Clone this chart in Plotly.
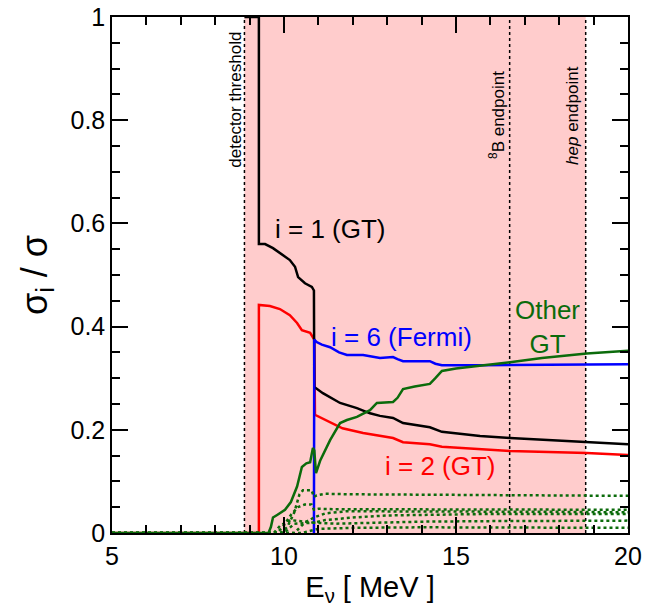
import plotly.graph_objects as go

# ---- data ----
threshold_E = 8.85
b8_endpoint_E = 16.56
hep_endpoint_E = 18.77

i1_x = [8.85, 9.27, 9.27, 9.45, 9.68, 9.97, 10.17, 10.32, 10.41, 10.61, 10.81, 10.87, 10.88, 11.13, 11.63, 12.12, 12.5, 12.79, 13.17, 13.46, 14.24, 14.59, 15.7, 16.57, 18.8, 20]
i1_y = [1, 1, 0.56, 0.56, 0.552, 0.539, 0.529, 0.516, 0.496, 0.484, 0.477, 0.47, 0.283, 0.271, 0.252, 0.242, 0.232, 0.227, 0.223, 0.213, 0.205, 0.196, 0.188, 0.184, 0.176, 0.172]

i2_x = [5, 9.27, 9.27, 9.59, 9.88, 10.17, 10.38, 10.52, 10.76, 10.84, 10.88, 10.9, 11.34, 11.7, 12.3, 12.79, 13.17, 13.46, 14.24, 14.59, 15.7, 16.57, 18.8, 20]
i2_y = [0, 0, 0.442, 0.44, 0.434, 0.422, 0.407, 0.393, 0.388, 0.38, 0.375, 0.229, 0.215, 0.203, 0.194, 0.188, 0.184, 0.176, 0.172, 0.167, 0.163, 0.159, 0.155, 0.151]

i6_x = [10.87, 10.88, 10.95, 11.1, 11.34, 11.6, 11.83, 12.3, 12.79, 13.17, 13.3, 13.46, 14.0, 14.24, 14.4, 14.59, 15.7, 18, 20]
i6_y = [0, 0.375, 0.37, 0.365, 0.36, 0.35, 0.345, 0.345, 0.339, 0.341, 0.337, 0.333, 0.333, 0.333, 0.328, 0.325, 0.325, 0.326, 0.327]

other_x = [5, 9.55, 9.62, 9.68, 9.8, 10.03, 10.2, 10.38, 10.52, 10.65, 10.76, 10.84, 10.88, 10.93, 11.05, 11.34, 11.63, 11.83, 12.12, 12.5, 12.7, 13.17, 13.3, 13.46, 13.8, 14.24, 14.4, 14.59, 15.0, 15.7, 16.57, 17.5, 18.8, 20]
other_y = [0, 0, 0.012, 0.03, 0.035, 0.045, 0.06, 0.09, 0.128, 0.135, 0.137, 0.165, 0.16, 0.116, 0.14, 0.18, 0.213, 0.219, 0.225, 0.238, 0.252, 0.254, 0.262, 0.279, 0.284, 0.289, 0.3, 0.314, 0.319, 0.324, 0.331, 0.339, 0.348, 0.353]

d1_x = [5, 9.9, 10.1, 10.3, 10.45, 10.55, 10.8, 10.87, 10.95, 11.2, 12, 14, 16, 18, 20]
d1_y = [0, 0, 0.012, 0.04, 0.075, 0.083, 0.083, 0.07, 0.073, 0.076, 0.075, 0.074, 0.073, 0.072, 0.072]
d2_x = [5, 9.8, 10.0, 10.2, 10.4, 10.6, 10.8, 10.87, 11.0, 11.5, 12.5, 14, 16, 18, 20]
d2_y = [0, 0, 0.015, 0.035, 0.05, 0.055, 0.055, 0.045, 0.047, 0.046, 0.046, 0.046, 0.045, 0.045, 0.045]
d3_x = [5, 10.3, 10.6, 10.87, 11.2, 11.8, 12.5, 14, 16, 18, 20]
d3_y = [0, 0, 0.02, 0.03, 0.038, 0.042, 0.042, 0.042, 0.041, 0.041, 0.04]
d4_x = [5, 9.7, 9.9, 10.2, 10.6, 10.87, 11.2, 12, 13, 14.5, 16, 18, 20]
d4_y = [0, 0, 0.015, 0.025, 0.022, 0.02, 0.025, 0.03, 0.034, 0.036, 0.037, 0.037, 0.037]
d5_x = [5, 10.0, 10.3, 10.87, 11.5, 12.5, 14, 16, 18, 20]
d5_y = [0, 0, 0.018, 0.02, 0.018, 0.02, 0.022, 0.023, 0.024, 0.024]
d6_x = [5, 10.5, 11.0, 12, 14, 16, 18, 20]
d6_y = [0, 0, 0.008, 0.01, 0.011, 0.011, 0.011, 0.01]

y_tickvals = [0, 0.2, 0.4, 0.6, 0.8, 1]
y_ticktext = ["0", "0.2", "0.4", "0.6", "0.8", "1"]
x_tickvals = [5, 10, 15, 20]
x_ticktext = ["5", "10", "15", "20"]

GREEN = "#0b6b0b"
FONT = "Liberation Sans, Arial, sans-serif"

fig = go.Figure()

# shaded region and markers
fig.add_shape(type="rect", x0=threshold_E, x1=hep_endpoint_E, y0=0, y1=1,
              xref="x", yref="y", fillcolor="#ffcccc", line_width=0, layer="below")
for xv in [threshold_E, b8_endpoint_E, hep_endpoint_E]:
    fig.add_shape(type="line", x0=xv, x1=xv, y0=0, y1=1, xref="x", yref="y",
                  line=dict(color="black", width=1.5, dash="dot"), layer="below")

fig.add_trace(go.Scatter(x=i2_x, y=i2_y, mode="lines", line=dict(color="red", width=2.5)))
fig.add_trace(go.Scatter(x=i1_x, y=i1_y, mode="lines", line=dict(color="black", width=2.5)))
fig.add_trace(go.Scatter(x=i6_x, y=i6_y, mode="lines", line=dict(color="blue", width=2.5)))
for dx, dy in [(d1_x, d1_y), (d2_x, d2_y), (d3_x, d3_y), (d4_x, d4_y), (d5_x, d5_y), (d6_x, d6_y)]:
    fig.add_trace(go.Scatter(x=dx, y=dy, mode="lines", line=dict(color=GREEN, width=2.5, dash="dot")))
fig.add_trace(go.Scatter(x=other_x, y=other_y, mode="lines", line=dict(color=GREEN, width=2.5)))

ann_font = dict(family=FONT, size=26)
fig.add_annotation(x=11.34, y=0.59, text="i = 1 (GT)", showarrow=False, font=dict(ann_font, color="black"))
fig.add_annotation(x=13.43, y=0.38, text="i = 6 (Fermi)", showarrow=False, font=dict(ann_font, color="blue"))
fig.add_annotation(x=14.56, y=0.13, text="i = 2 (GT)", showarrow=False, font=dict(ann_font, color="red"))
fig.add_annotation(x=17.67, y=0.40, text="Other<br>GT", showarrow=False, font=dict(ann_font, color=GREEN))

lab_font = dict(family=FONT, size=17, color="black")
fig.add_annotation(x=8.58, y=0.84, text="detector threshold", textangle=-90, showarrow=False, font=lab_font)
fig.add_annotation(x=16.19, y=0.81, text="<sup>8</sup>B endpoint", textangle=-90, showarrow=False, font=lab_font)
fig.add_annotation(x=18.37, y=0.81, text="<i>hep</i> endpoint", textangle=-90, showarrow=False, font=lab_font)

axis_common = dict(showline=True, linecolor="black", linewidth=1.5, mirror="allticks",
                   ticks="inside", ticklen=16, tickwidth=1.5, tickcolor="black",
                   showgrid=False, zeroline=False, automargin=False,
                   ticklabeloverflow="allow",
                   tickfont=dict(family=FONT, size=25, color="black"))

fig.update_xaxes(range=[5, 20], tickvals=x_tickvals, ticktext=x_ticktext,
                 minor=dict(dtick=1, tick0=5, ticks="inside", ticklen=8, tickwidth=1.5, tickcolor="black", showgrid=False),
                 title=dict(text="E<sub>ν</sub> [ MeV ]", font=dict(family=FONT, size=29, color="black"), standoff=8),
                 **axis_common)
fig.update_yaxes(range=[0, 1], tickvals=y_tickvals, ticktext=y_ticktext,
                 minor=dict(dtick=0.05, tick0=0, ticks="inside", ticklen=8, tickwidth=1.5, tickcolor="black", showgrid=False),
                 title=dict(text="σ<sub>i</sub> / σ", font=dict(family=FONT, size=36, color="black"), standoff=12),
                 **axis_common)

fig.update_layout(width=655, height=607, showlegend=False, autosize=False,
                  margin=dict(l=112, r=27, t=17, b=74, pad=0),
                  plot_bgcolor="white", paper_bgcolor="white")

# remove the default page margin so the figure sits at the window's corner
fig.write_html("out.html", config={"displayModeBar": False},
               post_script="document.body.style.margin='0';")
